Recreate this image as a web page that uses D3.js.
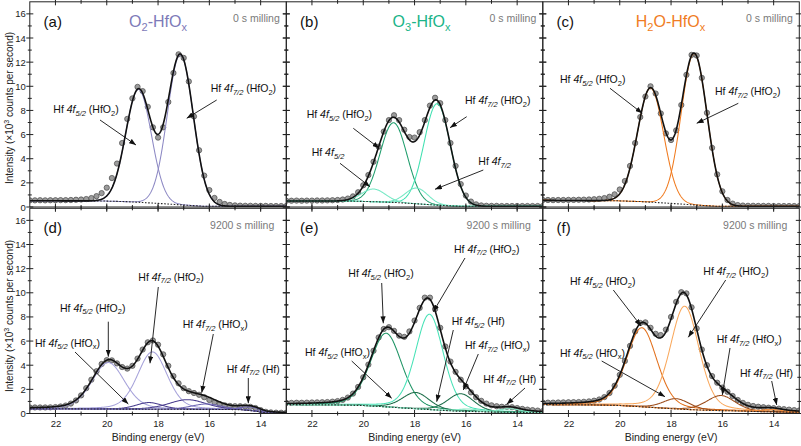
<!DOCTYPE html>
<html><head><meta charset="utf-8">
<script src="https://cdn.jsdelivr.net/npm/d3@7"></script>
<style>body{margin:0;background:#fff}svg{display:block}text{font-family:"Liberation Sans",Arial,sans-serif}</style>
</head><body>
<svg id="c" width="801" height="446"></svg>
<script>
// ---------------- DATA ----------------
const energyStart = 23.0, energyStep = 0.2, nPoints = 51; // measured-point energy grid (eV)
const yTicks = [0,2,4,6,8,10,12,14,16];
const yMinor = [1,3,5,7,9,11,13,15];
const xTicks = [22,20,18,16,14];
const xMinor = [21,19,17,15];

// measured intensities (x10^3 cps), 23.0 -> 13.0 eV in 0.2 eV steps
const measuredA = [.55,.55,.56,.55,.56,.56,.57,.57,.58,.60,.62, .66,.74,.90,1.15,1.6,2.4,3.6,5.3,7.3,9.0, 9.95,9.6,8.3,6.6,5.75,6.6,8.7,11.1,12.65,12.35, 10.4,7.5,4.7,2.6,1.4,.75,.42,.25,.17,.13, .11,.10,.10,.09,.09,.09,.08,.08,.08,.08];
const measuredB = [.52,.52,.53,.52,.53,.53,.54,.54,.55,.56,.58, .62,.70,.88,1.22,1.80,2.65,3.75,5.0,6.25,7.2, 7.6,7.2,6.4,5.8,5.75,6.2,7.2,8.4,9.05,8.6, 7.2,5.3,3.4,1.9,.95,.45,.22,.13,.10,.09, .09,.08,.08,.08,.08,.08,.08,.08,.08,.08];
const measuredC = [.58,.58,.57,.58,.58,.59,.59,.60,.61,.62,.64, .68,.74,.85,1.05,1.45,2.15,3.4,5.3,7.45,9.15, 10.0,9.4,7.75,6.1,5.55,6.35,8.45,10.95,12.6,12.55, 10.7,7.8,4.9,2.7,1.3,.58,.28,.16,.12,.10, .10,.09,.09,.09,.08,.08,.08,.08,.08,.08];
const measuredD = [.50,.50,.50,.50,.51,.53,.58,.66,.82,1.08,1.5, 2.1,2.8,3.5,4.1,4.42,4.4,4.15,3.85,3.72,3.95, 4.55,5.3,5.9,6.05,5.7,4.9,3.95,3.1,2.5,2.1, 1.85,1.7,1.55,1.35,1.12,.92,.78,.68,.63,.60, .60,.58,.55,.45,.28,.14,.09,.07,.06,.06];
const measuredE = [.88,.88,.89,.89,.90,.91,.92,.93,.95,.98,1.03, 1.13,1.32,1.65,2.2,3.0,4.05,5.2,6.3,7.0,7.15, 6.85,6.45,6.35,6.8,7.7,8.75,9.6,9.6,8.65,7.1, 5.55,4.3,3.45,2.8,2.25,1.75,1.35,1.05,.82,.68, .6,.56,.55,.52,.45,.38,.32,.28,.24,.2];
const measuredF = [.9,.9,.9,.91,.92,.93,.94,.95,.97,1.0,1.06, 1.16,1.36,1.7,2.3,3.2,4.35,5.6,6.8,7.5,7.55, 7.1,6.6,6.5,6.95,8.0,9.25,10.05,9.95,8.8,7.05, 5.3,4.0,3.1,2.55,2.15,1.8,1.45,1.12,.88,.72, .62,.56,.52,.48,.44,.4,.36,.32,.28,.25];

// fitted background (energy, intensity)
const bgA = [[23,.52],[20.2,.50],[19.2,.44],[18.76,.39],[18.0,.30],[17.14,.18],[16.2,.06],[13,.05]];
const bgB = [[23,.50],[20.5,.49],[19.6,.44],[18.8,.38],[18.0,.28],[17.2,.16],[16.2,.06],[13,.05]];
const bgC = [[23,.55],[20.2,.52],[19.2,.45],[18.8,.40],[18.0,.30],[17.1,.17],[16.2,.06],[13,.05]];
const bgD = [[23,.40],[19,.36],[16,.34],[14.8,.32],[14.2,.20],[13.8,.06],[13,.04]];
const bgE = [[23,.74],[21,.71],[20,.66],[19.1,.55],[18.4,.45],[17.4,.32],[16.4,.20],[15.5,.15],[14.5,.10],[13,.08]];
const bgF = [[23,.74],[21,.71],[20,.66],[19.1,.55],[18.4,.45],[17.4,.33],[16.4,.25],[15.5,.22],[14.5,.15],[13,.10]];

// fitted components: centre (eV), height above background, half width at half maximum (eV)
const centersA = [18.76,17.13], heightsA = [9.35,12.45], hwhmA = [.59,.59];
const centersB = [18.82,17.12,19.6,17.92], heightsB = [6.6,8.4,1.05,1.3], hwhmB = [.62,.6,.55,.52];
const centersC = [18.80,17.10], heightsC = [9.45,12.55], hwhmC = [.6,.59];
const centersD = [19.94,18.22,18.35,16.85,16.1,14.4], heightsD = [3.85,4.75,.55,.8,.45,.3], hwhmD = [.75,.68,.6,.85,.7,.45];
const centersE = [19.11,17.42,17.95,16.2,15.9,14.3], heightsE = [6.1,7.9,1.35,1.45,.2,.3], hwhmE = [.72,.64,.62,.6,.55,.5];
const centersF = [19.14,17.47,17.8,16.06,14.1], heightsF = [6.55,8.55,.85,1.25,.2], hwhmF = [.70,.66,.6,.65,.5];
const lorentzTop = 0, lorentzBottom = 0.25;

const panelLetters = ['(a)','(b)','(c)','(d)','(e)','(f)'];
const millingLabels = ['0 s milling','9200 s milling'];

// ---------------- STYLE / LAYOUT ----------------
const colorsA = ['#8d89c4','#8d89c4'];
const colorsB = ['#1f9d6c','#3fe0b0','#74e8c4','#74e8c4'];
const colorsC = ['#f07a1e','#f07a1e'];
const colorsD = ['#a6a2da','#a6a2da','#4b3f8f','#4b3f8f','#6f67b3','#6f67b3'];
const colorsE = ['#1f9465','#46e2b6','#1d6e4a','#1d6e4a','#86eac6','#86eac6'];
const colorsF = ['#e2701c','#f9a85c','#9c4c1a','#9c4c1a','#f39040'];
const colX = [29.8,286.3,542.8], panelW = 256.5;
const rowY = [1.8,208.3], panelH = 205.2;

const annotations = [
 // panel index, orbital, species, text x, text y, arrow from, arrow to
 [0,'5/2','HfO2',53.3,113,100,120,136,145],
 [0,'7/2','HfO2',210.7,92,216.7,100,186.7,118.3],
 [1,'5/2','HfO2',306.7,118.3,353.3,128.3,379.3,148.3],
 [1,'7/2','HfO2',465,104,466.7,116.7,450,127.7],
 [1,'5/2','',311.7,156,340,163.3,370,186.7],
 [1,'7/2','',478.3,165,483.3,170,435,189.3],
 [2,'5/2','HfO2',560,83.3,610,88.3,642.3,113.3],
 [2,'7/2','HfO2',715,95,738.3,103.3,696.7,123.3],
 [3,'5/2','HfO2',60,311.7,108.3,321.7,108.3,356.7],
 [3,'7/2','HfO2',138.3,280.7,158.3,287,150,363.3],
 [3,'5/2','HfOx',35,346.7,75,352,128.3,404],
 [3,'7/2','HfOx',182.7,328.3,213.3,334,201.7,392.7],
 [3,'7/2','Hf',226.7,372.7,248.3,378,248.3,403.3],
 [4,'5/2','HfO2',348.3,277.3,381.7,283,383.3,323.3],
 [4,'7/2','HfO2',454,252.7,465,258,433.3,311.7],
 [4,'5/2','Hf',451.7,325,453.3,330,436.7,401.7],
 [4,'5/2','HfOx',305,356,351.7,361,391.7,398.3],
 [4,'7/2','HfOx',465,349.3,478.3,354,463.3,390],
 [4,'7/2','Hf',483.3,382.7,525,388,506.7,404.3],
 [5,'5/2','HfO2',570,285,613.3,290,641,326],
 [5,'7/2','HfO2',703.3,275,725.7,280,688.3,337.3],
 [5,'5/2','HfOx',560,356.7,601.7,361,665,396.7],
 [5,'7/2','HfOx',716.7,343.3,730,348,722.3,395],
 [5,'7/2','Hf',740,376.7,771.7,381,776.7,405]
];

const panels = [
 {col:0,row:0,data:measuredA,bg:bgA,c:centersA,h:heightsA,w:hwhmA,eta:lorentzTop,colors:colorsA,title:['O','2','-HfO','x'],titleColor:'#7d7ab8',titleX:158},
 {col:1,row:0,data:measuredB,bg:bgB,c:centersB,h:heightsB,w:hwhmB,eta:lorentzTop,colors:colorsB,title:['O','3','-HfO','x'],titleColor:'#1bb488',titleX:421.5},
 {col:2,row:0,data:measuredC,bg:bgC,c:centersC,h:heightsC,w:hwhmC,eta:lorentzTop,colors:colorsC,title:['H','2','O-HfO','x'],titleColor:'#f07c24',titleX:670.5},
 {col:0,row:1,data:measuredD,bg:bgD,c:centersD,h:heightsD,w:hwhmD,eta:lorentzBottom,colors:colorsD},
 {col:1,row:1,data:measuredE,bg:bgE,c:centersE,h:heightsE,w:hwhmE,eta:lorentzBottom,colors:colorsE},
 {col:2,row:1,data:measuredF,bg:bgF,c:centersF,h:heightsF,w:hwhmF,eta:lorentzBottom,colors:colorsF}
];

// ---------------- DRAW ----------------
const svg = d3.select('#c');
const defs = svg.append('defs');
defs.append('marker').attr('id','arr').attr('viewBox','0 0 8 6').attr('refX',8).attr('refY',3)
  .attr('markerWidth',7).attr('markerHeight',5.2).attr('markerUnits','userSpaceOnUse').attr('orient','auto')
  .append('path').attr('d','M0,0L8,3L0,6Z').attr('fill','#111');

const energies = d3.range(nPoints).map(i => +(energyStart - i*energyStep).toFixed(2));
const fine = d3.range(23, 12.995, -0.02);
const profile = (E,c,h,w,eta) => { const r=(E-c)/w; return h*((1-eta)*Math.exp(-Math.LN2*r*r) + eta/(1+r*r)); };

panels.forEach((p,i) => {
  const x0 = colX[p.col], y0 = rowY[p.row];
  const x = d3.scaleLinear().domain([23,13]).range([x0, x0+panelW]);
  const y = d3.scaleLinear().domain([0,17]).range([y0+panelH, y0]);
  const bgS = d3.scaleLinear().domain(p.bg.map(d=>d[0])).range(p.bg.map(d=>d[1])).clamp(true);
  defs.append('clipPath').attr('id','clip'+i).append('rect').attr('x',x0).attr('y',y0).attr('width',panelW).attr('height',panelH);
  const g = svg.append('g').attr('clip-path',`url(#clip${i})`);
  const line = d3.line().x(d=>x(d[0])).y(d=>y(d[1])).curve(d3.curveLinear);

  // measured points
  g.selectAll('circle').data(p.data.map((v,k)=>[energies[k],v])).join('circle')
    .attr('cx',d=>x(d[0])).attr('cy',d=>y(d[1])).attr('r',2.65)
    .attr('fill','#9c9c9c').attr('stroke','#505050').attr('stroke-width',0.75);
  // components
  p.c.forEach((c,k) => {
    g.append('path').attr('d', line(fine.map(E=>[E, bgS(E)+profile(E,c,p.h[k],p.w[k],p.eta)])))
      .attr('fill','none').attr('stroke',p.colors[k]).attr('stroke-width',1.05);
  });
  // background
  g.append('path').attr('d', line(fine.map(E=>[E,bgS(E)]))).attr('fill','none')
    .attr('stroke','#2a2a2a').attr('stroke-width',1.1).attr('stroke-dasharray','1.6,1.6');
  // envelope
  g.append('path').attr('d', line(fine.map(E=>[E, bgS(E)+d3.sum(p.c,(c,k)=>profile(E,c,p.h[k],p.w[k],p.eta))])))
    .attr('fill','none').attr('stroke','#111').attr('stroke-width',1.6);

  // frame and ticks
  const f = svg.append('g').attr('stroke','#222').attr('stroke-width',1);
  f.append('rect').attr('x',x0).attr('y',y0).attr('width',panelW).attr('height',panelH).attr('fill','none');
  [x0, x0+panelW].forEach(xx => {
    yTicks.forEach(v => f.append('line').attr('x1',xx-3.5).attr('x2',xx+3.5).attr('y1',y(v)).attr('y2',y(v)));
    yMinor.forEach(v => f.append('line').attr('x1',xx-2).attr('x2',xx+2).attr('y1',y(v)).attr('y2',y(v)));
  });
  [y0, y0+panelH].forEach(yy => {
    xTicks.forEach(v => f.append('line').attr('y1',yy-3.5).attr('y2',yy+3.5).attr('x1',x(v)).attr('x2',x(v)));
    xMinor.forEach(v => f.append('line').attr('y1',yy-2).attr('y2',yy+2).attr('x1',x(v)).attr('x2',x(v)));
  });

  if (p.col===0) {
    const ax = svg.append('g').attr('transform',`translate(${x0},0)`)
      .call(d3.axisLeft(y).tickValues(yTicks).tickSize(0).tickPadding(4));
    ax.select('.domain').remove();
    ax.selectAll('text').attr('font-size',9.5).attr('font-family','"Liberation Sans",Arial,sans-serif').attr('fill','#222');
  }
  if (p.row===1) {
    const ax = svg.append('g').attr('transform',`translate(0,${y0+panelH})`)
      .call(d3.axisBottom(x).tickValues(xTicks).tickSize(0).tickPadding(7));
    ax.select('.domain').remove();
    ax.selectAll('text').attr('font-size',9.5).attr('font-family','"Liberation Sans",Arial,sans-serif').attr('fill','#222');
    svg.append('text').attr('x',x0+panelW/2).attr('y',441).attr('text-anchor','middle')
      .attr('font-size',10.5).attr('fill','#222').text('Binding energy (eV)');
  }

  // panel letter, milling label, title
  svg.append('text').attr('x',x0+13.8).attr('y',y0+24.7).attr('font-size',15).attr('fill','#111').text(panelLetters[i]);
  svg.append('text').attr('x',x0+panelW-(p.row===0?6.5:12)).attr('y',y0+(p.row===0?19.7:20.2)).attr('text-anchor','end')
    .attr('font-size',10.5).attr('fill','#7a7a7a').text(millingLabels[p.row]);
  if (p.title) {
    const t = svg.append('text').attr('x',p.titleX).attr('y',y0+25.2).attr('text-anchor','middle')
      .attr('font-size',16).attr('fill',p.titleColor);
    t.append('tspan').text(p.title[0]);
    t.append('tspan').attr('font-size',11).attr('dy',4).text(p.title[1]);
    t.append('tspan').attr('dy',-4).text(p.title[2]);
    t.append('tspan').attr('font-size',11).attr('dy',4).text(p.title[3]);
  }
});

// y axis titles
[108,316].forEach(cy => {
  const t = svg.append('text').attr('transform',`translate(13,${cy}) rotate(-90)`).attr('text-anchor','middle')
    .attr('font-size',10).attr('fill','#222');
  t.append('tspan').text('Intensity (\u00d710');
  t.append('tspan').attr('font-size',7).attr('dy',-4).text('3');
  t.append('tspan').attr('dy',4).text(' counts per second)');
});

// annotations
const ag = svg.append('g');
annotations.forEach(a => {
  const [pi,orb,sp,tx,ty,x1,y1,x2,y2] = a;
  ag.append('line').attr('x1',x1).attr('y1',y1).attr('x2',x2).attr('y2',y2)
    .attr('stroke','#111').attr('stroke-width',0.9).attr('marker-end','url(#arr)');
  const t = ag.append('text').attr('x',tx).attr('y',ty).attr('font-size',10.5).attr('fill','#111');
  t.append('tspan').text('Hf ');
  t.append('tspan').attr('font-style','italic').text('4f');
  t.append('tspan').attr('font-style','italic').attr('font-size',7.5).attr('dy',2.6).text(orb);
  if (sp==='Hf') { t.append('tspan').attr('dy',-2.6).text(' (Hf)'); }
  else if (sp) {
    t.append('tspan').attr('dy',-2.6).text(' (HfO');
    t.append('tspan').attr('font-size',7.5).attr('dy',2.6).text(sp==='HfO2'?'2':'x');
    t.append('tspan').attr('dy',-2.6).text(')');
  }
});
</script>
</body></html>
